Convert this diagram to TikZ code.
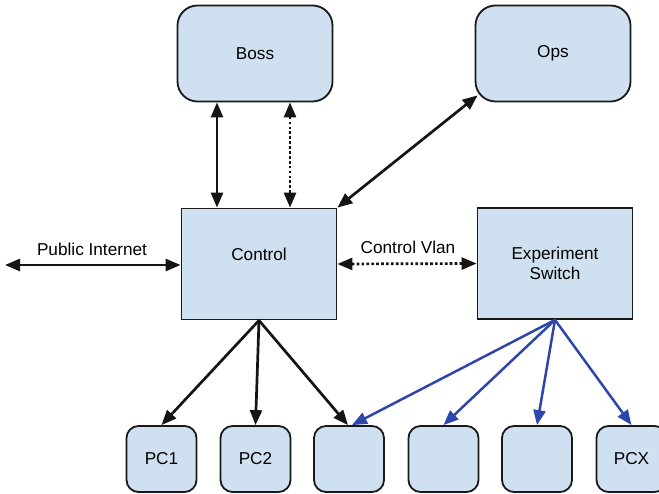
\documentclass[tikz,border=0pt]{standalone}
\usepackage{fontspec}
\setmainfont{Liberation Sans}
\usetikzlibrary{arrows.meta,calc}

\definecolor{boxfill}{HTML}{CFE0F1}
\definecolor{linkblue}{HTML}{2E46AA}

\tikzset{
  box/.style={draw=black!90, line width=1.8pt, fill=boxfill, inner sep=0pt,
    font=\fontsize{17.2}{19.5}\selectfont, align=center},
  host/.style={box, rounded corners=20pt, minimum width=155pt, minimum height=96pt},
  server/.style={box, minimum width=155pt, minimum height=111pt},
  pc/.style={box, rounded corners=12pt, minimum width=70pt, minimum height=66pt},
  tip/.style={-{Triangle[length=15pt,width=12pt]}},
  biarrow/.style={{Triangle[length=15pt,width=12pt]}-{Triangle[length=15pt,width=12pt]}},
  link/.style={line width=2.7pt, black!92},
  dotlink/.style={link, dash pattern=on 2.7pt off 2.2pt},
  bluelink/.style={line width=2.5pt, linkblue},
  lbl/.style={font=\fontsize{17.2}{19.5}\selectfont, inner sep=0pt}
}

\begin{document}
\begin{tikzpicture}[x=1pt, y=-1pt]
  \useasboundingbox (0,0) rectangle (659,494);
  \clip (0,0) rectangle (659,494);

  % servers on top
  \node[host] (boss) at (255,53.5) {Boss};
  \node[host] (ops)  at (553,53.5) {Ops};

  % control and experiment switch
  \node[server] (control) at (259,264) {};
  \node[lbl] (controltxt) at (259,254) {Control};
  \node[server] (expsw)   at (555,263.5) {Experiment\\Switch};

  % experiment nodes
  \node[pc] (pc1) at (161.5,459) {PC1};
  \node[pc] (pc2) at (255.5,459) {PC2};
  \node[pc] (pc3) at (349,459) {};
  \node[pc] (pc4) at (443.5,459) {};
  \node[pc] (pc5) at (537,459) {};
  \node[pc] (pcx) at (631.5,459) {PCX};

  % boss <-> control
  \draw[link, biarrow] ([xshift=-38pt]boss.south) -- ([xshift=-42pt]control.north);
  \draw[dotlink, biarrow] ([xshift=35pt]boss.south) -- ([xshift=31pt]control.north);

  % ops <-> control
  \draw[link, biarrow] (control.north east) -- ([shift={(3,-7)}]ops.south west);

  % public internet
  \coordinate (inet) at (5,265);
  \draw[link, biarrow] (inet) -- (inet -| control.west);
  \node[lbl] (inetlbl) at (92,249) {Public Internet};

  % control vlan
  \draw[dotlink, biarrow] (control.east) -- (expsw.west);
  \node[lbl] (vlanlbl) at (408,247) {Control Vlan};

  % control to experiment nodes
  \coordinate (cbot) at (control.south);
  \draw[link, tip] (cbot) -- (pc1.north);
  \draw[link, tip] (cbot) -- (pc2.north);
  \draw[link, tip] (cbot) -- ([xshift=-1pt]pc3.north);

  % experiment switch to experiment nodes
  \coordinate (sbot) at (expsw.south);
  \draw[bluelink, tip] (sbot) -- ([xshift=3pt]pc3.north);
  \draw[bluelink, tip] (sbot) -- (pc4.north);
  \draw[bluelink, tip] (sbot) -- (pc5.north);
  \draw[bluelink, tip] (sbot) -- (pcx.north);
\end{tikzpicture}
\end{document}
